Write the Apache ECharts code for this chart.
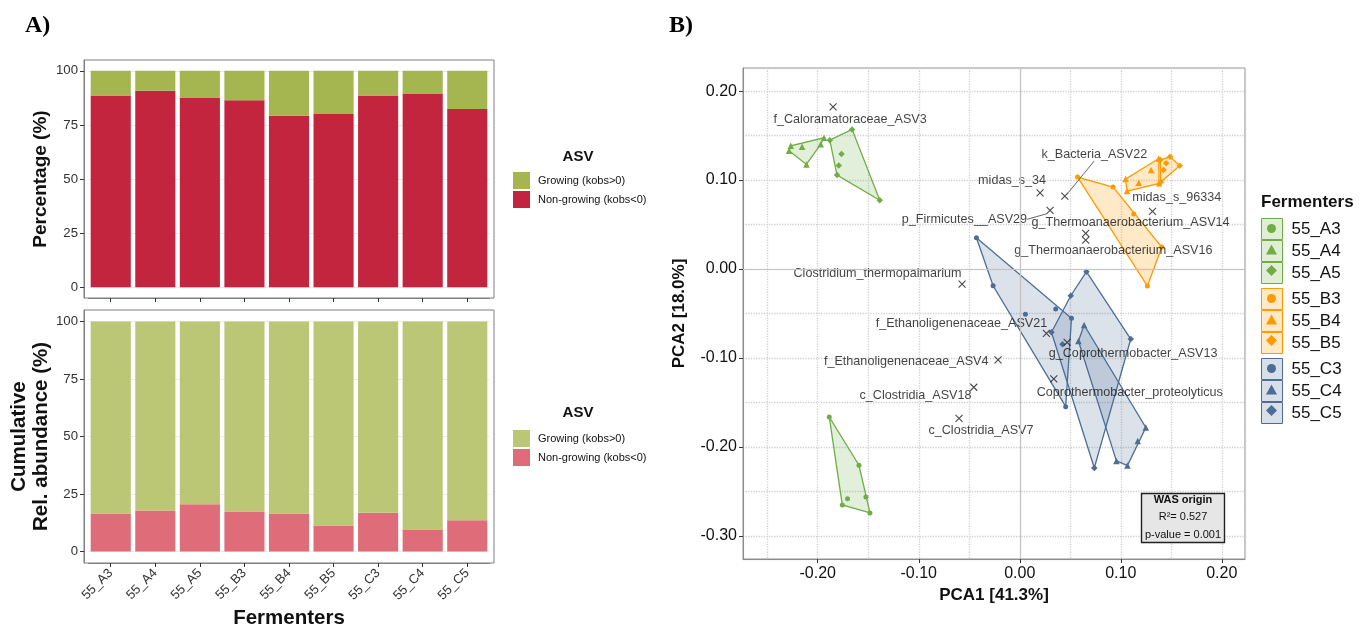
<!DOCTYPE html>
<html><head><meta charset="utf-8">
<script src="https://cdn.jsdelivr.net/npm/echarts@6.0.0/dist/echarts.min.js"></script>
<style>html,body{margin:0;padding:0;background:#fff}#chart{width:1370px;height:626px}</style>
</head><body><div id="chart"></div>
<script>
// ---------- DATA ----------
const categories = ['55_A3','55_A4','55_A5','55_B3','55_B4','55_B5','55_C3','55_C4','55_C5'];
// Panel A top: percentage of ASVs
const pctNonGrowing = [88.6, 90.8, 87.7, 86.4, 79.2, 80.0, 88.6, 89.5, 82.3];
const pctGrowing    = [11.4,  9.2, 12.3, 13.6, 20.8, 20.0, 11.4, 10.5, 17.7];
// Panel A bottom: cumulative relative abundance
const abundNonGrowing = [16.5, 17.8, 20.5, 17.4, 16.5, 11.3, 16.8,  9.4, 13.6];
const abundGrowing    = [83.5, 82.2, 79.5, 82.6, 83.5, 88.7, 83.2, 90.6, 86.4];
const barTicks = [0, 25, 50, 75, 100];

// Panel B: PCA scores per fermenter [PCA1, PCA2]
const pcaA3 = [[-0.1886,-0.1663],[-0.1592,-0.2206],[-0.1523,-0.2562],[-0.1483,-0.2742],[-0.1757,-0.2652],[-0.1705,-0.2582]];
const pcaA4 = [[-0.2284,0.1329],[-0.2267,0.1385],[-0.2155,0.1374],[-0.2112,0.1176],[-0.1970,0.1404],[-0.1938,0.1475]];
const pcaA5 = [[-0.1881,0.1449],[-0.1660,0.1570],[-0.1386,0.0772],[-0.1809,0.1056],[-0.1765,0.1292],[-0.1792,0.1165]];
const pcaB3 = [[0.0572,0.1034],[0.0924,0.0921],[0.1406,0.0247],[0.1264,-0.0191],[0.1129,0.0618]];
const pcaB4 = [[0.1047,0.1011],[0.1376,0.1242],[0.1379,0.0963],[0.1062,0.0876],[0.1300,0.1112],[0.1178,0.0970]];
const pcaB5 = [[0.1391,0.1225],[0.1488,0.1262],[0.1584,0.1161],[0.1396,0.0978],[0.1449,0.1188],[0.1423,0.1112]];
const pcaC3 = [[-0.0429,0.0352],[-0.0264,-0.0188],[0.0455,-0.1547],[0.0512,-0.0554],[0.0056,-0.0509],[0.0356,-0.0449]];
const pcaC4 = [[0.0637,-0.0629],[0.0581,-0.0809],[0.1248,-0.1781],[0.1066,-0.2210],[0.0957,-0.2157],[0.1168,-0.1933]];
const pcaC5 = [[0.0660,-0.0030],[0.1099,-0.0787],[0.0738,-0.2236],[0.0314,-0.0711],[0.0505,-0.0300],[0.0423,-0.0846]];

// Species (WAS loadings)
const species = ['f_Caloramatoraceae_ASV3','midas_s_34','k_Bacteria_ASV22','p_Firmicutes__ASV29',
  'g_Thermoanaerobacterium_ASV14','g_Thermoanaerobacterium_ASV16','midas_s_96334','Clostridium_thermopalmarium',
  'f_Ethanoligenenaceae_ASV21','g_Coprothermobacter_ASV13','f_Ethanoligenenaceae_ASV4','Coprothermobacter_proteolyticus',
  'c_Clostridia_ASV18','c_Clostridia_ASV7'];
const speciesPC1 = [-0.1848, 0.0201, 0.0446, 0.0300, 0.0653, 0.0653, 0.1314, -0.0571, 0.0264, 0.0469, -0.0215, 0.0337, -0.0455, -0.0601];
const speciesPC2 = [ 0.1824, 0.0857, 0.0820, 0.0660, 0.0401, 0.0326, 0.0648, -0.0169, -0.0723, -0.0824, -0.1022, -0.1236, -0.1329, -0.1678];
const pcaTicksX = [-0.2, -0.1, 0, 0.1, 0.2];
const pcaTicksY = [-0.3, -0.2, -0.1, 0, 0.1, 0.2];

// ---------- STYLE / LAYOUT ----------
const FONT = '"Liberation Sans", Arial, Helvetica, sans-serif';
const RED_TOP = '#C3253F', GREEN_TOP = '#A5B550';
const RED_BOT = '#DE6C79', GREEN_BOT = '#BCC775';
const GREEN = '#70AD47', ORANGE = '#FF9A00', BLUE = '#4C6D96';
const pcaSets = [pcaA3, pcaA4, pcaA5, pcaB3, pcaB4, pcaB5, pcaC3, pcaC4, pcaC5];
const colorOf = [GREEN, GREEN, GREEN, ORANGE, ORANGE, ORANGE, BLUE, BLUE, BLUE];
const fillOf = ['rgba(112,173,71,0.2)','rgba(112,173,71,0.2)','rgba(112,173,71,0.2)',
  'rgba(255,154,0,0.22)','rgba(255,154,0,0.22)','rgba(255,154,0,0.22)',
  'rgba(76,109,150,0.2)','rgba(76,109,150,0.2)','rgba(76,109,150,0.2)'];
const shapeOf = ['circle','triangle','diamond','circle','triangle','diamond','circle','triangle','diamond'];
const sizeOf = {circle: 5, triangle: 6.5, diamond: 6.5};
// label offsets (px) relative to each species marker
const labelOffsets = [[17,12.6],[-28,-12.7],[29.5,-41.7],[-85.6,9],[44.8,-10.6],[27.7,10.7],[24.3,-13.6],
  [-84.6,-10.7],[-85,-10],[66,11],[-91.8,2],[76,13.3],[-58.3,8.4],[21.9,12.4]];
const leaderLine = [false,false,true,true,false,false,false,false,false,false,false,false,false,false];

function hull(points){
  const p = points.slice().sort((a,b)=>a[0]-b[0]||a[1]-b[1]);
  const cross=(o,a,b)=>(a[0]-o[0])*(b[1]-o[1])-(a[1]-o[1])*(b[0]-o[0]);
  const lower=[]; for(const q of p){while(lower.length>=2&&cross(lower[lower.length-2],lower[lower.length-1],q)<=0)lower.pop();lower.push(q);}
  const upper=[]; for(let i=p.length-1;i>=0;i--){const q=p[i];while(upper.length>=2&&cross(upper[upper.length-2],upper[upper.length-1],q)<=0)upper.pop();upper.push(q);}
  upper.pop(); lower.pop(); return lower.concat(upper);
}

// bar panels: frame spans 9.2 category units (ggplot expansion); inner grid spans 9 bands
const PANEL_L = 84, PANEL_W = 410, UNIT = PANEL_W / 9.2;
const INNER_L = PANEL_L + 0.1 * UNIT, INNER_W = 9 * UNIT;
const tickLine = {lineStyle:{color:'#333', width:1}, length:4};

function barXAxis(grid, showLabels){
  return {gridIndex:grid, type:'category', data:categories, boundaryGap:true,
    axisLine:{show:true, onZero:false, lineStyle:{color:'#7f7f7f'}},
    axisTick:{show:true, alignWithLabel:true, length:4, lineStyle:{color:'#333'}},
    axisLabel:{show:showLabels, interval:0, rotate:45, margin:8, fontSize:13, color:'#333', fontFamily:FONT},
    splitLine:{show:false},
    name: showLabels?'Fermenters':'', nameLocation:'middle', nameGap:45,
    nameTextStyle:{fontSize:20.5, fontWeight:'bold', color:'#111', fontFamily:FONT}};
}
function barYAxis(grid, name, nameGap, nameSize){
  return {gridIndex:grid, type:'value', min:-5, max:105, minInterval:25, maxInterval:25, offset:INNER_L-PANEL_L,
    axisLine:{show:true, onZero:false, lineStyle:{color:'#7f7f7f'}},
    axisTick:Object.assign({show:true, customValues:barTicks}, tickLine),
    axisLabel:{customValues:barTicks, margin:6, fontSize:13.2, color:'#333', fontFamily:FONT,
      formatter:v=>(v%25===0&&v>=0&&v<=100)?String(v):''},
    splitLine:{show:true, lineStyle:{color:'#ebebeb', width:1}},
    name:name, nameLocation:'middle', nameGap:nameGap,
    nameTextStyle:{fontSize:nameSize, fontWeight:'bold', color:'#111', fontFamily:FONT, lineHeight:22}};
}
const pcaFmt = v => (pcaTicksY.some(t=>Math.abs(t-v)<1e-9) ? v.toFixed(2) : '');

const series = [
  {name:'Non-growing (kobs<0)', type:'bar', xAxisIndex:0, yAxisIndex:0, stack:'top', barWidth:'90%',
    data:pctNonGrowing, itemStyle:{color:RED_TOP}, silent:true},
  {name:'Growing (kobs>0)', type:'bar', xAxisIndex:0, yAxisIndex:0, stack:'top', barWidth:'90%',
    data:pctGrowing, itemStyle:{color:GREEN_TOP}, silent:true},
  {name:'Non-growing (kobs<0)', type:'bar', xAxisIndex:1, yAxisIndex:1, stack:'bot', barWidth:'90%',
    data:abundNonGrowing, itemStyle:{color:RED_BOT}, silent:true},
  {name:'Growing (kobs>0)', type:'bar', xAxisIndex:1, yAxisIndex:1, stack:'bot', barWidth:'90%',
    data:abundGrowing, itemStyle:{color:GREEN_BOT}, silent:true},
  // zero reference lines
  {name:'zero', type:'scatter', xAxisIndex:2, yAxisIndex:2, data:[[0,0]], symbolSize:0, silent:true, z:1,
    markLine:{silent:true, symbol:['none','none'], label:{show:false}, animation:false,
      lineStyle:{color:'#c4c4c4', type:'solid', width:1.2}, data:[{xAxis:0},{yAxis:0}]}}
];
categories.forEach((f,k)=>{
  const pts = pcaSets[k];
  series.push({name:f, type:'custom', xAxisIndex:2, yAxisIndex:2, z:2, silent:true, data:pts,
    renderItem:(params, api)=>{
      if (params.dataIndex !== 0) return null;
      const hp = hull(pts).map(p=>api.coord(p));
      return {type:'polygon', shape:{points:hp}, style:{fill:fillOf[k], stroke:colorOf[k], lineWidth:1.3}};
    }});
});
categories.forEach((f,k)=>{
  series.push({name:f, type:'scatter', xAxisIndex:2, yAxisIndex:2, z:3, silent:true, data:pcaSets[k],
    symbol:shapeOf[k], symbolSize:sizeOf[shapeOf[k]], itemStyle:{color:colorOf[k], opacity:1}});
});
series.push({name:'species', type:'scatter', xAxisIndex:2, yAxisIndex:2, z:4, silent:true,
  data:species.map((s,i)=>{
    const d = {name:s, value:[speciesPC1[i], speciesPC2[i]]};
    if (leaderLine[i]) d.labelLine = {show:true};
    return d;
  }),
  symbol:'path://M0,0L10,10M10,0L0,10', symbolSize:7,
  itemStyle:{color:'rgba(0,0,0,0)', borderColor:'#1a1a1a', borderWidth:1.1},
  label:{show:true, position:'inside', formatter:'{b}', color:'#111', fontSize:12.6, fontFamily:FONT, textBorderWidth:0},
  labelLayout:p=>({dx:labelOffsets[p.dataIndex][0], dy:labelOffsets[p.dataIndex][1]}),
  labelLine:{show:false, lineStyle:{color:'#555', width:0.9}}
});

const asvLegend = (top, g, r) => ({left:513, top:top, orient:'vertical', itemWidth:17, itemHeight:17, itemGap:2,
  padding:0, selectedMode:false, icon:'rect',
  textStyle:{fontSize:11, color:'#111', fontFamily:FONT, padding:[0,0,0,3]},
  data:[{name:'Growing (kobs>0)', itemStyle:{color:g}}, {name:'Non-growing (kobs<0)', itemStyle:{color:r}}]});
const boxLegend = (top, names, color, fill) => ({left:1261, top:top, orient:'vertical', itemWidth:21, itemHeight:21,
  itemGap:0, padding:0, selectedMode:false, icon:'rect',
  itemStyle:{color:fill, borderColor:color, borderWidth:1},
  textStyle:{fontSize:17, color:'#111', fontFamily:FONT, padding:[0,0,0,4]}, data:names});
const shapeLegend = (top, left, icon, w, h, names) => ({left:left, top:top, orient:'vertical', itemWidth:w, itemHeight:h,
  itemGap:49, padding:0, selectedMode:false, icon:icon, z:6,
  textStyle:{fontSize:17, lineHeight:21, color:'rgba(0,0,0,0)', fontFamily:FONT},
  data:names.map(n=>({name:n, itemStyle:{color:colorOf[categories.indexOf(n)], borderWidth:0}}))});

const frame = {borderColor:'#7f7f7f', borderWidth:1, backgroundColor:'#fff', show:true, outerBoundsMode:'none'};
const option = {
  animation:false,
  backgroundColor:'#fff',
  grid:[
    {left:INNER_L, top:60, width:INNER_W, height:238, show:false, outerBoundsMode:'none'},
    {left:INNER_L, top:310, width:INNER_W, height:253, show:false, outerBoundsMode:'none'},
    {left:743, top:68, width:502, height:491, show:true, borderColor:'#8c8c8c', borderWidth:1, backgroundColor:'#fff', outerBoundsMode:'none'},
    Object.assign({left:PANEL_L, top:60, width:PANEL_W, height:238}, frame),
    Object.assign({left:PANEL_L, top:310, width:PANEL_W, height:253}, frame)
  ],
  xAxis:[
    barXAxis(0,false), barXAxis(1,true),
    {gridIndex:2, type:'value', min:-0.274, max:0.223, minInterval:0.1, maxInterval:0.1,
      axisLine:{show:true, onZero:false, lineStyle:{color:'#8c8c8c'}},
      axisTick:Object.assign({show:true, customValues:pcaTicksX}, tickLine),
      axisLabel:{customValues:pcaTicksX, formatter:pcaFmt, margin:7, fontSize:16, color:'#111', fontFamily:FONT},
      splitLine:{show:false},
      name:'PCA1 [41.3%]', nameLocation:'middle', nameGap:28,
      nameTextStyle:{fontSize:17, fontWeight:'bold', color:'#111', fontFamily:FONT}},
    {gridIndex:2, type:'value', min:-0.274, max:0.223, minInterval:0.05, maxInterval:0.05,
      axisLine:{show:false, onZero:false}, axisTick:{show:false}, axisLabel:{show:false},
      splitLine:{show:true, lineStyle:{color:'#d0d0d0', type:'dotted', width:1.3}}}
  ],
  yAxis:[
    barYAxis(0,'Percentage (%)',27,19), barYAxis(1,'Cumulative\nRel. abundance (%)',32,20.5),
    {gridIndex:2, type:'value', min:-0.326, max:0.226, minInterval:0.1, maxInterval:0.1,
      axisLine:{show:true, onZero:false, lineStyle:{color:'#8c8c8c'}},
      axisTick:Object.assign({show:true, customValues:pcaTicksY}, tickLine),
      axisLabel:{customValues:pcaTicksY, formatter:pcaFmt, margin:6, fontSize:16, color:'#111', fontFamily:FONT},
      splitLine:{show:false},
      name:'PCA2 [18.0%]', nameLocation:'middle', nameGap:55,
      nameTextStyle:{fontSize:17, fontWeight:'bold', color:'#111', fontFamily:FONT}},
    {gridIndex:2, type:'value', min:-0.326, max:0.226, minInterval:0.05, maxInterval:0.05,
      axisLine:{show:false, onZero:false}, axisTick:{show:false}, axisLabel:{show:false},
      splitLine:{show:true, lineStyle:{color:'#d0d0d0', type:'dotted', width:1.3}}}
  ],
  legend:[
    asvLegend(172, GREEN_TOP, RED_TOP),
    asvLegend(430, GREEN_BOT, RED_BOT),
    boxLegend(218, ['55_A3','55_A4','55_A5'], GREEN, 'rgba(112,173,71,0.22)'),
    boxLegend(288, ['55_B3','55_B4','55_B5'], ORANGE, 'rgba(255,154,0,0.22)'),
    boxLegend(358, ['55_C3','55_C4','55_C5'], BLUE, 'rgba(76,109,150,0.22)'),
    shapeLegend(218, 1267, 'circle', 9, 9, ['55_A3','55_B3','55_C3']),
    shapeLegend(239, 1266, 'triangle', 11, 10, ['55_A4','55_B4','55_C4']),
    shapeLegend(260, 1266, 'diamond', 11, 11, ['55_A5','55_B5','55_C5'])
  ],
  graphic:[
    {type:'text', x:25, y:14, style:{text:'A)', fill:'#000', font:'bold 24px "Liberation Serif", "Times New Roman", serif', verticalAlign:'top'}},
    {type:'text', x:669, y:14, style:{text:'B)', fill:'#000', font:'bold 24px "Liberation Serif", "Times New Roman", serif', verticalAlign:'top'}},
    {type:'text', x:578, y:157, style:{text:'ASV', fill:'#111', font:'bold 15px '+FONT, align:'center', verticalAlign:'middle'}},
    {type:'text', x:578, y:413, style:{text:'ASV', fill:'#111', font:'bold 15px '+FONT, align:'center', verticalAlign:'middle'}},
    {type:'text', x:1261, y:202, style:{text:'Fermenters', fill:'#111', font:'bold 17px '+FONT, align:'left', verticalAlign:'middle'}},
    {type:'rect', shape:{x:1141.5, y:493.5, width:83, height:49}, style:{fill:'#e6e6e6', stroke:'#222', lineWidth:1.4}, z:10},
    {type:'text', x:1183, y:500, z:11, style:{text:'WAS origin', fill:'#111', font:'bold 11px '+FONT, align:'center', verticalAlign:'middle'}},
    {type:'text', x:1183, y:517, z:11, style:{text:'R²= 0.527', fill:'#111', font:'11px '+FONT, align:'center', verticalAlign:'middle'}},
    {type:'text', x:1183, y:535, z:11, style:{text:'p-value = 0.001', fill:'#111', font:'11px '+FONT, align:'center', verticalAlign:'middle'}}
  ],
  series:series
};
const chart = echarts.init(document.getElementById('chart'), null, {renderer:'canvas'});
chart.setOption(option);
</script></body></html>
